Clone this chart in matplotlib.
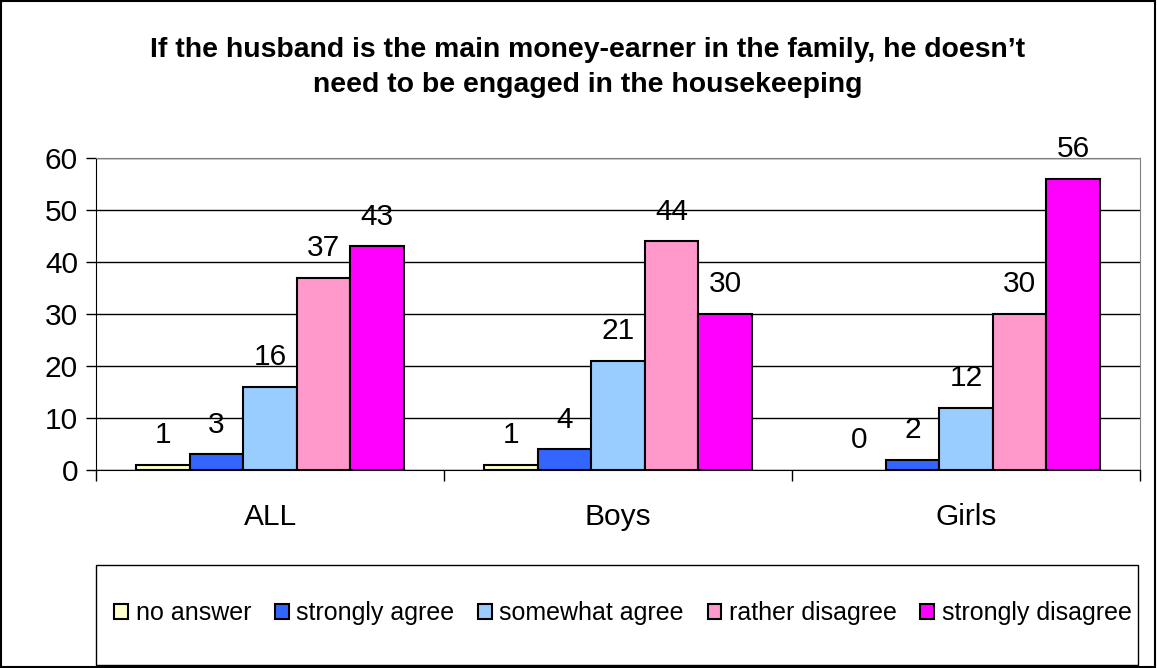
import matplotlib.pyplot as plt
import matplotlib.patches as mpatches
import numpy as np

plt.rcParams['font.family'] = ['Liberation Sans', 'DejaVu Sans']

# data
groups = ['ALL', 'Boys', 'Girls']
answers = ['no answer', 'strongly agree', 'somewhat agree', 'rather disagree', 'strongly disagree']
no_answer = [1, 1, 0]
strongly_agree = [3, 4, 2]
somewhat_agree = [16, 21, 12]
rather_disagree = [37, 44, 30]
strongly_disagree = [43, 30, 56]
colors = ['#FFFFCC', '#3366FF', '#99CCFF', '#FF99CC', '#FF00FF']

series = [no_answer, strongly_agree, somewhat_agree, rather_disagree, strongly_disagree]

W, H = 1157, 668
fig = plt.figure(figsize=(W / 100, H / 100), dpi=100)

# outer border
fig.patches.append(mpatches.Rectangle((0.001, 0.002), 0.997, 0.996, transform=fig.transFigure,
                                      fill=False, edgecolor='black', linewidth=1.5))

fig.text(0.508, 1 - 50 / H, "If the husband is the main money-earner in the family, he doesn\u2019t",
         ha='center', va='center', fontsize=20.4, fontweight='bold')
fig.text(0.508, 1 - 85 / H, "need to be engaged in the housekeeping",
         ha='center', va='center', fontsize=20.4, fontweight='bold')

ax = fig.add_axes([96 / W, 1 - 470 / H, (1140 - 96) / W, (470 - 158) / H])

x = np.arange(len(groups))
bw = 0.77 / len(series)
handles = []
for i, (vals, col, lab) in enumerate(zip(series, colors, answers)):
    pos = x - 0.385 + bw * (i + 0.5)
    lw = [1.5 if v > 0 else 0 for v in vals]
    ax.bar(pos, vals, width=bw, color=col, edgecolor='black', linewidth=lw, label=lab, zorder=3)
    handles.append(mpatches.Patch(facecolor=col, edgecolor='black', linewidth=1.5, label=lab))
    for p, v in zip(pos, vals):
        ax.text(p, v + 3.0, str(v), ha='center', va='bottom', fontsize=21.5, zorder=4)

ax.set_xlim(-0.5, 2.5)
ax.set_ylim(0, 60)
ax.set_yticks(range(0, 61, 10))
ax.tick_params(axis='y', labelsize=21.5, length=7, width=1, direction='out', pad=6)
ax.set_xticks([-0.5, 0.5, 1.5, 2.5])
ax.set_xticklabels([])
ax.set_xticks(x, minor=True)
ax.set_xticklabels(groups, minor=True, fontsize=21.5)
ax.tick_params(axis='x', which='major', length=8, width=1, color='black')
ax.tick_params(axis='x', which='minor', length=0, pad=24)
ax.yaxis.grid(True, color='black', linewidth=1, zorder=0)
for s in ['top', 'right']:
    ax.spines[s].set_color('#808080')
ax.spines['left'].set_color('black')
ax.spines['bottom'].set_color('black')

# legend box
fig.patches.append(mpatches.Rectangle((96 / W, 1 - 665 / H), (1138 - 96) / W, 100 / H,
                                      transform=fig.transFigure, fill=False,
                                      edgecolor='black', linewidth=1))
fig.legend(handles=handles, loc='center', bbox_to_anchor=(623 / W, 1 - 613 / H), ncol=5,
           frameon=False, fontsize=18, handlelength=0.55, handleheight=0.55,
           handletextpad=0.3, columnspacing=0.95)

plt.savefig('out.png', dpi=100)
